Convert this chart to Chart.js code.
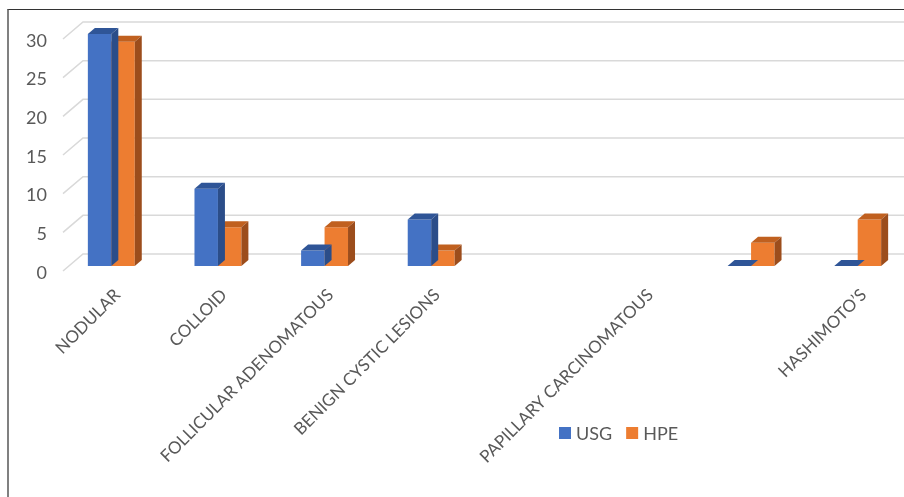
<!DOCTYPE html>
<html lang="en">
<head>
  <meta charset="UTF-8">
  <title>USG vs HPE</title>
  <script src="https://cdn.jsdelivr.net/npm/chart.js"></script>
  <style>
    body {
      margin: 0;
      background: #fff;
      overflow: hidden;
    }
    .frame {
      position: absolute;
      left: 7px;
      top: 9px;
      width: 1000px;
      height: 1000px;
      border-top: 1px solid #333;
      border-left: 2px solid #808080;
      pointer-events: none;
    }
    #chart {
      position: absolute;
      left: 0;
      top: 0;
    }
  </style>
</head>
<body>

<canvas id="chart" width="920" height="497"></canvas>
<div class="frame"></div>

<script>
  // data
  var categories = ['NODULAR', 'COLLOID', 'FOLLICULAR ADENOMATOUS', 'BENIGN CYSTIC LESIONS', '', 'PAPILLARY CARCINOMATOUS', '', 'HASHIMOTO\u2019S'];
  var usgValues = [30, 10, 2, 6, null, null, 0, 0];
  var hpeValues = [29, 5, 5, 2, null, null, 3, 6];
  var yTicks = [0, 5, 10, 15, 20, 25, 30];

  var textColor = '#595959';
  var fontFamily = 'Lato, "Open Sans", sans-serif';

  // background grid, drawn like the back wall of the excel 3d chart
  var backGrid = {
    id: 'backGrid',
    beforeDatasetsDraw: function(chart) {
      var ctx = chart.ctx, y = chart.scales.y, a = chart.chartArea;
      ctx.save();
      ctx.strokeStyle = '#d9d9d9';
      ctx.lineWidth = 1.5;
      ctx.beginPath();
      yTicks.forEach(function(v) {
        var py = y.getPixelForValue(v);
        ctx.moveTo(a.left + 5, py + 5);
        ctx.lineTo(a.left + 25, py - 12);
        ctx.lineTo(chart.width, py - 12);
      });
      ctx.stroke();
      ctx.restore();
    }
  };

  // top and side faces for every bar
  var barDepth = {
    id: 'barDepth',
    afterDatasetDraw: function(chart, args) {
      var ctx = chart.ctx;
      var ds = chart.data.datasets[args.index];
      var dx = 7, dy = -6;
      ctx.save();
      args.meta.data.forEach(function(el, i) {
        if (ds.data[i] == null) return;
        var p = el.getProps(['x', 'y', 'base', 'width'], true);
        var l = p.x - p.width / 2, r = p.x + p.width / 2;
        ctx.fillStyle = ds.topColor;
        ctx.beginPath();
        ctx.moveTo(l, p.y);
        ctx.lineTo(l + dx, p.y + dy);
        ctx.lineTo(r + dx, p.y + dy);
        ctx.lineTo(r, p.y);
        ctx.closePath();
        ctx.fill();
        if (p.base - p.y > 0.5) {
          ctx.fillStyle = ds.sideColor;
          ctx.beginPath();
          ctx.moveTo(r, p.y);
          ctx.lineTo(r + dx, p.y + dy);
          ctx.lineTo(r + dx, p.base + dy);
          ctx.lineTo(r, p.base);
          ctx.closePath();
          ctx.fill();
        }
      });
      ctx.restore();
    }
  };

  // legend sitting between the axis labels, as in the original
  var midLegend = {
    id: 'midLegend',
    afterDraw: function(chart) {
      var ctx = chart.ctx;
      var x = 559, y = 433;
      ctx.save();
      ctx.font = '18px ' + fontFamily;
      ctx.textBaseline = 'middle';
      chart.data.datasets.forEach(function(ds) {
        ctx.fillStyle = ds.backgroundColor;
        ctx.fillRect(x, y - 6, 12, 12);
        ctx.fillStyle = textColor;
        ctx.fillText(ds.label, x + 17, y + 1);
        x += 17 + ctx.measureText(ds.label).width + 14;
      });
      ctx.restore();
    }
  };

  var ctxChart = document.getElementById('chart').getContext('2d');
  var chart = new Chart(ctxChart, {
    type: 'bar',
    data: {
      labels: categories,
      datasets: [{
        label: 'USG',
        data: usgValues,
        backgroundColor: '#4472c4',
        topColor: '#2f5597',
        sideColor: '#2b4d89'
      }, {
        label: 'HPE',
        data: hpeValues,
        backgroundColor: '#ed7d31',
        topColor: '#c0601f',
        sideColor: '#9c4d1c'
      }]
    },
    options: {
      responsive: false,
      animation: false,
      layout: {
        padding: { top: 34, right: 9, bottom: 0, left: 0 }
      },
      datasets: {
        bar: {
          categoryPercentage: 0.44,
          barPercentage: 1.0
        }
      },
      plugins: {
        legend: { display: false },
        tooltip: { enabled: false }
      },
      scales: {
        x: {
          grid: { display: false, drawTicks: false },
          border: { display: false },
          ticks: {
            autoSkip: false,
            minRotation: 45,
            maxRotation: 45,
            padding: 19,
            labelOffset: 6,
            color: textColor,
            font: { family: fontFamily, size: 17 }
          },
          afterFit: function(scale) { scale.height = 231; }
        },
        y: {
          min: 0,
          max: 30,
          grid: { display: false, drawTicks: false },
          border: { display: false },
          ticks: {
            stepSize: 5,
            padding: 11,
            labelOffset: 7,
            color: textColor,
            font: { family: fontFamily, size: 18 }
          },
          afterFit: function(scale) { scale.width = 58; }
        }
      }
    },
    plugins: [backGrid, barDepth, midLegend]
  });
</script>

</body>
</html>
